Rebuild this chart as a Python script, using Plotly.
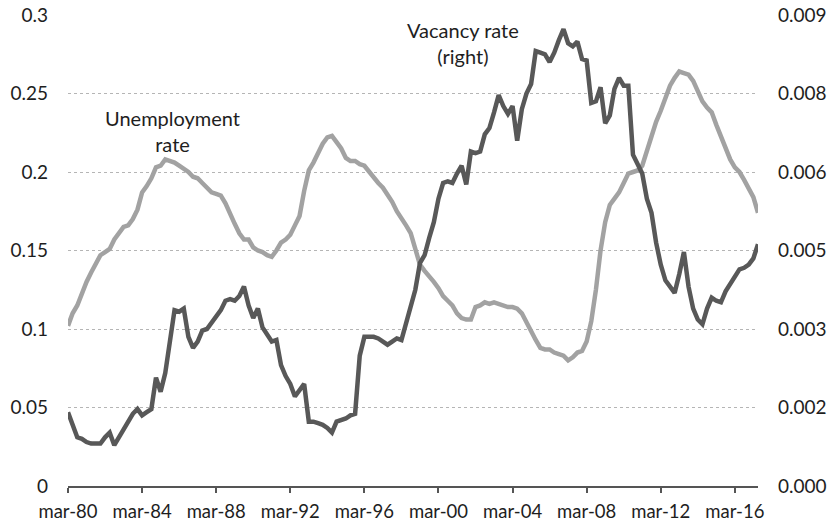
import plotly.graph_objects as go

# Quarterly series, starting March 1980
unemployment = [
    0.102, 0.110, 0.115, 0.123, 0.130, 0.136, 0.141, 0.147, 0.149, 0.151,
    0.157, 0.161, 0.165, 0.166, 0.170, 0.176, 0.187, 0.191, 0.196, 0.203,
    0.204, 0.208, 0.207, 0.206, 0.204, 0.202, 0.200, 0.197, 0.196, 0.193,
    0.190, 0.187, 0.186, 0.185, 0.180, 0.173, 0.167, 0.161, 0.157, 0.157,
    0.152, 0.150, 0.149, 0.147, 0.146, 0.150, 0.155, 0.157, 0.160, 0.166,
    0.172, 0.188, 0.201, 0.206, 0.212, 0.218, 0.222, 0.223, 0.219, 0.215,
    0.209, 0.207, 0.207, 0.205, 0.204, 0.200, 0.197, 0.193, 0.190, 0.186,
    0.181, 0.175, 0.171, 0.166, 0.161, 0.152, 0.141, 0.137, 0.134, 0.130,
    0.126, 0.121, 0.118, 0.115, 0.110, 0.107, 0.106, 0.106, 0.114, 0.115,
    0.117, 0.116, 0.117, 0.116, 0.115, 0.114, 0.114, 0.113, 0.110, 0.104,
    0.098, 0.093, 0.088, 0.087, 0.087, 0.085, 0.084, 0.083, 0.080, 0.082,
    0.085, 0.086, 0.092, 0.105, 0.125, 0.150, 0.168, 0.179, 0.183, 0.187,
    0.193, 0.199, 0.200, 0.201, 0.204, 0.214, 0.223, 0.232, 0.239, 0.248,
    0.255, 0.260, 0.264, 0.263, 0.262, 0.258, 0.252, 0.245, 0.241, 0.238,
    0.230, 0.223, 0.215, 0.208, 0.203, 0.200, 0.195, 0.189, 0.184, 0.174,
]

vacancy = [
    0.00141, 0.00114, 0.00093, 0.00090, 0.00084, 0.00081, 0.00081, 0.00081, 0.00093, 0.00102,
    0.00078, 0.00093, 0.00108, 0.00120, 0.00138, 0.00147, 0.00135, 0.00141, 0.00147, 0.00207,
    0.00180, 0.00216, 0.00279, 0.00336, 0.00333, 0.00339, 0.00285, 0.00264, 0.00276, 0.00297,
    0.00300, 0.00312, 0.00327, 0.00336, 0.00354, 0.00357, 0.00354, 0.00363, 0.00381, 0.00345,
    0.00321, 0.00339, 0.00303, 0.00288, 0.00276, 0.00279, 0.00231, 0.00210, 0.00195, 0.00171,
    0.00183, 0.00195, 0.00123, 0.00123, 0.00120, 0.00117, 0.00111, 0.00102, 0.00123, 0.00126,
    0.00129, 0.00135, 0.00138, 0.00249, 0.00285, 0.00285, 0.00285, 0.00282, 0.00276, 0.00270,
    0.00276, 0.00282, 0.00279, 0.00312, 0.00345, 0.00375, 0.00426, 0.00441, 0.00474, 0.00504,
    0.00549, 0.00579, 0.00582, 0.00579, 0.00597, 0.00612, 0.00576, 0.00639, 0.00636, 0.00639,
    0.00672, 0.00684, 0.00714, 0.00747, 0.00726, 0.00711, 0.00726, 0.00660, 0.00720, 0.00750,
    0.00768, 0.00831, 0.00828, 0.00825, 0.00810, 0.00828, 0.00852, 0.00873, 0.00846, 0.00840,
    0.00849, 0.00816, 0.00813, 0.00732, 0.00735, 0.00762, 0.00693, 0.00708, 0.00759, 0.00780,
    0.00765, 0.00765, 0.00633, 0.00615, 0.00597, 0.00549, 0.00522, 0.00465, 0.00423, 0.00393,
    0.00381, 0.00369, 0.00405, 0.00447, 0.00381, 0.00339, 0.00318, 0.00309, 0.00339, 0.00360,
    0.00354, 0.00351, 0.00372, 0.00387, 0.00402, 0.00414, 0.00417, 0.00423, 0.00435, 0.00462,
]

month_names = ["mar", "jun", "sep", "dec"]
quarters = [f"{month_names[i % 4]}-{(1980 + i // 4) % 100:02d}" for i in range(len(unemployment))]

x_tick_labels = ["mar-80", "mar-84", "mar-88", "mar-92", "mar-96", "mar-00",
                 "mar-04", "mar-08", "mar-12", "mar-16"]
left_ticks = [0, 0.05, 0.1, 0.15, 0.2, 0.25, 0.3]
left_tick_labels = ["0", "0.05", "0.1", "0.15", "0.2", "0.25", "0.3"]
right_ticks = [0, 0.0015, 0.003, 0.0045, 0.006, 0.0075, 0.009]
right_tick_labels = ["0.000", "0.002", "0.003", "0.005", "0.006", "0.008", "0.009"]

FONT = "Lato"
TXT = "#1e1e1e"

fig = go.Figure()
fig.add_trace(go.Scatter(x=quarters, y=unemployment, mode="lines", name="Unemployment rate",
                         line=dict(color="#a2a2a2", width=4.5), yaxis="y"))
fig.add_trace(go.Scatter(x=quarters, y=vacancy, mode="lines", name="Vacancy rate (right)",
                         line=dict(color="#585858", width=4.5), yaxis="y2"))

fig.update_layout(
    width=832, height=521,
    margin=dict(l=68, r=74, t=15, b=35, autoexpand=False),
    paper_bgcolor="white", plot_bgcolor="white",
    showlegend=False,
    font=dict(family=FONT, size=19, color=TXT),
    xaxis=dict(
        type="category", range=[0, len(quarters) - 1], automargin=False,
        tickmode="array", tickvals=x_tick_labels, ticktext=x_tick_labels,
        ticks="outside", ticklen=5, tickcolor="#555555", tickwidth=1.5,
        showline=True, linecolor="#555555", linewidth=1.5,
        showgrid=False, zeroline=False, ticklabelstandoff=3,
        ticklabeloverflow="allow",
        tickfont=dict(size=18.5, color=TXT),
    ),
    yaxis=dict(
        range=[0, 0.3], tickmode="array", tickvals=left_ticks, ticktext=left_tick_labels,
        automargin=False, ticklabeloverflow="allow",
        showgrid=True, gridcolor="#b5b5b5", griddash="dot", gridwidth=1,
        zeroline=False, showline=False, ticks="",
        ticklabelstandoff=19,
        tickfont=dict(size=19, color=TXT),
    ),
    yaxis2=dict(
        range=[0, 0.009], overlaying="y", side="right", automargin=False,
        ticklabeloverflow="allow",
        tickmode="array", tickvals=right_ticks, ticktext=right_tick_labels,
        showgrid=False, zeroline=False, showline=False, ticks="",
        ticklabelstandoff=19,
        tickfont=dict(size=19, color=TXT),
    ),
    annotations=[
        dict(text="Unemployment<br>rate", xref="paper", yref="paper",
             x=0.151, y=0.753, showarrow=False, xanchor="center", yanchor="middle",
             font=dict(size=20, color=TXT)),
        dict(text="Vacancy rate<br>(right)", xref="paper", yref="paper",
             x=0.5725, y=0.9416, showarrow=False, xanchor="center", yanchor="middle",
             font=dict(size=20, color=TXT)),
    ],
)

# remove the default page margin so the 832x521 figure fills the window exactly
fig.write_html("out.html", config={"displayModeBar": False},
               post_script="document.body.style.margin='0';")
